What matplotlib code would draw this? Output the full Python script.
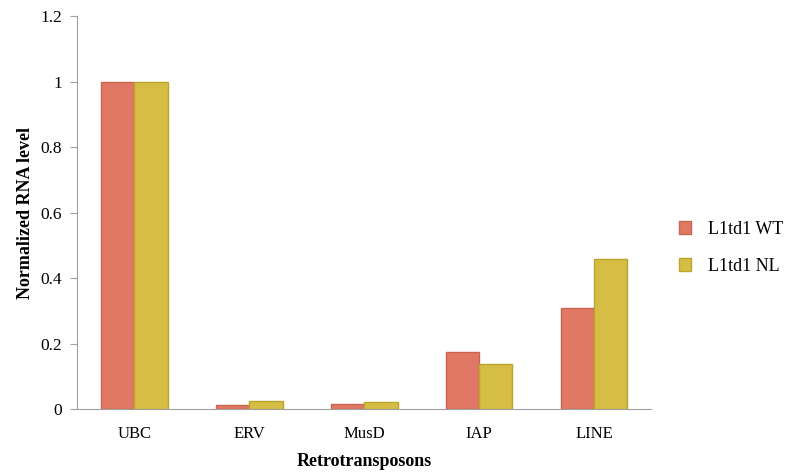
import numpy as np
import matplotlib
matplotlib.use("Agg")
import matplotlib.pyplot as plt

categories = ["UBC", "ERV", "MusD", "IAP", "LINE"]
wt_values = [1.0, 0.014, 0.016, 0.173, 0.309]
nl_values = [1.0, 0.025, 0.022, 0.137, 0.458]
series_names = ["L1td1 WT", "L1td1 NL"]
yticks = [0, 0.2, 0.4, 0.6, 0.8, 1.0, 1.2]
ytick_labels = ["0", "0.2", "0.4", "0.6", "0.8", "1", "1.2"]

plt.rcParams['font.family'] = ['Liberation Serif', 'DejaVu Serif']

fig = plt.figure(figsize=(7.89, 4.73), dpi=100)
ax = fig.add_axes([0.0976, 0.135, 0.728, 0.831])

x = np.arange(len(categories))
w = 0.29
ax.bar(x - w/2, wt_values, w, color='#E07865', edgecolor='#C9654F', linewidth=1, label=series_names[0])
ax.bar(x + w/2, nl_values, w, color='#D6BE45', edgecolor='#BCA52C', linewidth=1, label=series_names[1])

ax.set_xlim(-0.5, len(categories) - 0.5)
ax.set_ylim(0, 1.2)
ax.set_xticks(x)
ax.set_xticklabels(categories, fontsize=12)
ax.set_yticks(yticks)
ax.set_yticklabels(ytick_labels, fontsize=12.5)
ax.tick_params(axis='x', length=0, pad=12)
ax.tick_params(axis='y', length=5, color='#A0A0A0', pad=6)
for s in ['top', 'right']:
    ax.spines[s].set_visible(False)
for s in ['left', 'bottom']:
    ax.spines[s].set_color('#A0A0A0')

ax.set_xlabel("Retrotransposons", fontsize=13, fontweight='bold', labelpad=8)
ax.set_ylabel("Normalized RNA level", fontsize=13, fontweight='bold', labelpad=4)

ax.legend(loc='center left', bbox_to_anchor=(1.035, 0.41), frameon=False, fontsize=13,
          handlelength=0.7, handleheight=0.7, labelspacing=1.1, handletextpad=0.9,
          borderaxespad=0)

fig.savefig("out.png", dpi=100)
